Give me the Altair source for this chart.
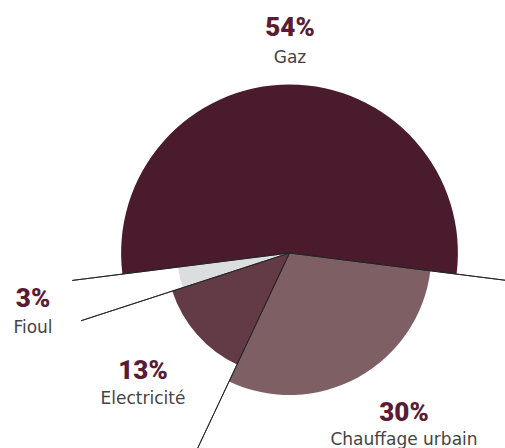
import math
import altair as alt
import pandas as pd

categories = ["Gaz", "Chauffage urbain", "Electricité", "Fioul"]
values = [54, 30, 13, 3]
pct_labels = ["54%", "30%", "13%", "3%"]
colors = ["#4a1a2d", "#7e5f64", "#633b47", "#dcdddf"]

df = pd.DataFrame({"cat": categories, "value": values, "pct": pct_labels})
df["end"] = df["value"].cumsum()
df["start"] = df["end"] - df["value"]
df["full"] = 100

# Gaz slice centred on the top
a0 = 2 * math.pi - math.pi * values[0] / 100
theta_scale = alt.Scale(type="linear", domain=[0, 100], range=[a0, a0 + 2 * math.pi], zero=False, nice=False)
radius_scale = alt.Scale(type="linear", domain=[0, 100], range=[109, 219], zero=False, nice=False)
color_scale = alt.Scale(domain=categories, range=colors)

CX, CY = 289.5, 253

base = alt.Chart(df)

slices = base.mark_arc(stroke=None).encode(
    theta=alt.Theta("start:Q", scale=theta_scale, stack=False),
    theta2="end:Q",
    radius=alt.Radius("value:Q", scale=radius_scale),
    radius2=alt.value(0),
    color=alt.Color("cat:N", scale=color_scale, legend=None),
    x=alt.value(CX),
    y=alt.value(CY),
)

lines = base.mark_arc(stroke="#222222", strokeWidth=0.9, fillOpacity=0, fill="white").encode(
    theta=alt.Theta("start:Q", scale=theta_scale, stack=False),
    theta2="start:Q",
    radius=alt.Radius("full:Q", scale=radius_scale),
    radius2=alt.value(0),
    x=alt.value(CX),
    y=alt.value(CY),
)

# label anchors (pixel layout for annotations)
anchors = {
    "Gaz": (290, 36, 63),
    "Chauffage urbain": (404, 421, 445),
    "Electricité": (143, 379, 404),
    "Fioul": (33, 307, 333),
}

layers = [slices, lines]
for cat in categories:
    x, ypct, yname = anchors[cat]
    sub = base.transform_filter(alt.datum.cat == cat)
    layers.append(
        sub.mark_text(font="Roboto", fontWeight=900, fontSize=26, color="#5a1c34", align="center", baseline="alphabetic").encode(
            text="pct:N", x=alt.value(x), y=alt.value(ypct)
        )
    )
    layers.append(
        sub.mark_text(font="DejaVu Sans", fontSize=17, color="#444444", align="center", baseline="alphabetic").encode(
            text="cat:N", x=alt.value(x), y=alt.value(yname)
        )
    )

chart = alt.layer(*layers).properties(
    width=505, height=448, autosize="none", padding=0
).configure_view(stroke=None)

chart.save("out.html", embed_options={"renderer": "svg", "actions": False})
